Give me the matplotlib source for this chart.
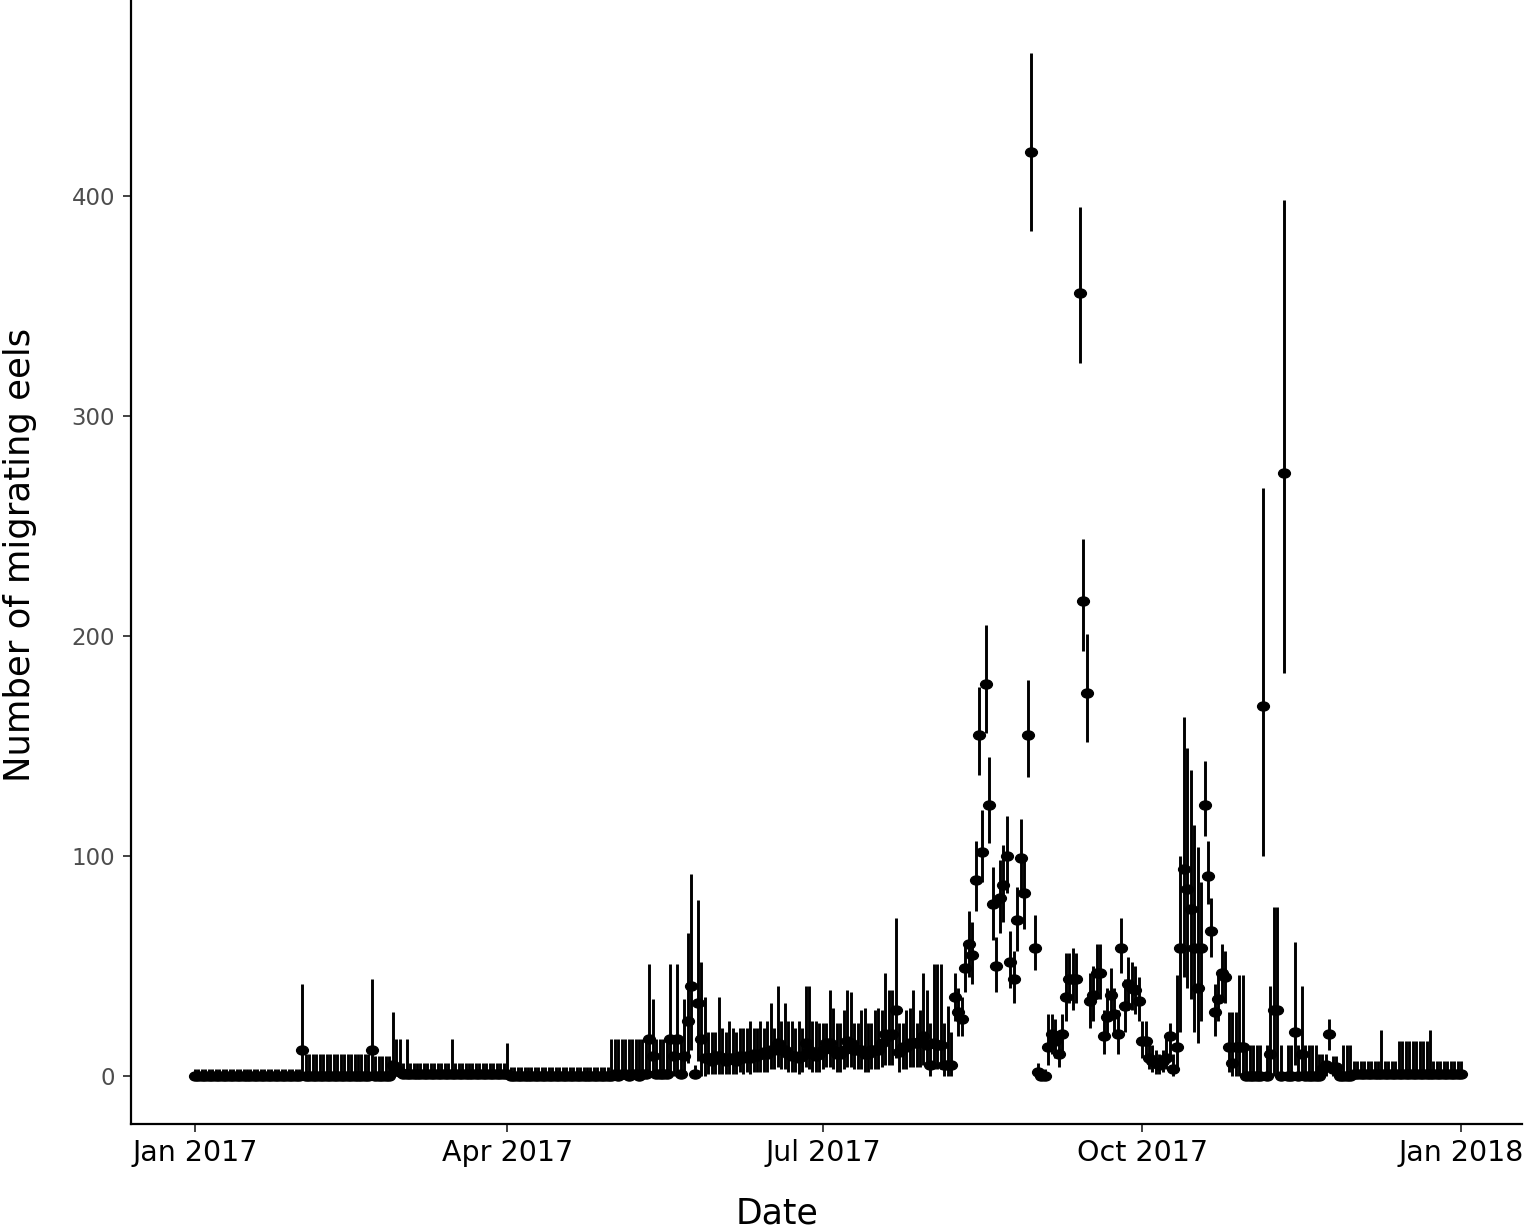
import matplotlib
matplotlib.use("Agg")
import matplotlib.pyplot as plt
import matplotlib.dates as mdates
from matplotlib.path import Path
import numpy as np
import pandas as pd

# one estimate per day, 1 Jan 2017 .. 1 Jan 2018
dates = pd.date_range("2017-01-01", "2018-01-01", freq="D")

eels = (
    [0] * 31  # Jan
    + [12] + [0] * 19 + [12] + [0] * 5 + [5, 3]  # Feb
    + [2] + [1] * 30  # Mar
    + [1] + [0] * 29  # Apr
    + [0, 1, 0, 1, 1, 0, 1, 1, 0, 1, 1, 17, 9, 1, 1, 1, 1, 17, 9, 17,
       1, 9, 25, 41, 1, 33, 17, 8, 8, 7, 9]  # May
    + [9, 8, 7, 8, 8, 7, 9, 8, 9, 8, 10, 9, 10, 11, 10, 12, 12, 15, 12, 12,
       10, 9, 9, 8, 9, 15, 12, 10, 9, 10]  # Jun
    + [12, 15, 15, 12, 10, 10, 12, 16, 15, 12, 12, 12, 10, 10, 12, 12, 12, 15, 19, 18,
       19, 30, 11, 13, 13, 15, 15, 15, 16, 18, 14]  # Jul
    + [5, 15, 14, 14, 5, 5, 5, 36, 29, 26, 49, 60, 55, 89, 155, 102, 178, 123, 78, 50,
       81, 87, 100, 52, 44, 71, 99, 83, 155, 420, 58]  # Aug
    + [2, 0, 0, 13, 19, 16, 10, 19, 36, 44, 44, 44, 356, 216, 174, 34, 37, 47, 47, 18,
       27, 37, 28, 19, 58, 32, 42, 40, 39, 34]  # Sep
    + [16, 16, 8, 7, 6, 5, 7, 8, 18, 3, 13, 58, 94, 85, 76, 58, 40, 58, 123, 91,
       66, 29, 35, 47, 45, 13, 6, 13, 13, 13, 0]  # Oct
    + [0, 0, 0, 0, 168, 0, 10, 30, 30, 0, 274, 0, 0, 20, 0, 10, 0, 0, 0, 0,
       0, 3, 5, 19, 3, 4, 0, 0, 0, 0]  # Nov
    + [1] * 32  # Dec + 1 Jan 2018
)

eels_lo = (
    [0] * 31 + [0] * 28 + [0] * 31 + [0] * 30
    + [0] * 11 + [0, 0, 0, 0, 0, 0, 0, 0, 0, 0, 0, 6, 12, 0, 7, 0, 0, 1, 1, 1]
    + [1, 1, 1, 1, 1, 1, 2, 1, 2, 1, 2, 2, 2, 2, 2, 3, 3, 4, 3, 3,
       2, 2, 2, 1, 2, 4, 3, 2, 2, 2]
    + [3, 4, 4, 3, 2, 2, 3, 4, 4, 3, 3, 3, 2, 2, 3, 3, 3, 4, 5, 5,
       5, 8, 2, 3, 3, 4, 4, 4, 4, 5, 4]
    + [0, 3, 3, 3, 0, 0, 0, 25, 18, 18, 38, 45, 42, 75, 137, 88, 156, 106, 62, 38,
       65, 70, 83, 40, 33, 57, 83, 67, 136, 384, 48]
    + [0, 0, 0, 5, 10, 8, 4, 10, 25, 33, 30, 33, 324, 193, 152, 22, 25, 35, 35, 10,
       17, 26, 18, 10, 47, 20, 30, 30, 28, 25]
    + [8, 8, 3, 2, 1, 1, 2, 3, 8, 0, 3, 20, 45, 40, 35, 20, 15, 25, 109, 78,
       54, 18, 25, 35, 33, 2, 0, 0, 0, 0, 0]
    + [0, 0, 0, 0, 100, 0, 0, 0, 0, 0, 183, 0, 0, 5, 0, 0, 0, 0, 0, 0,
       0, 0, 0, 12, 0, 0, 0, 0, 0, 0]
    + [0] * 32
)

eels_hi = (
    [3] * 31
    + [42] + [10] * 19 + [44] + [9] * 5 + [29, 17]
    + [17, 6, 17] + [6] * 12 + [17] + [6] * 15
    + [15] + [4] * 29
    + [17] * 11 + [51, 35, 17, 17, 17, 17, 51, 17, 51, 17, 35, 65, 92, 5, 80, 52, 36, 20, 20, 20]
    + [36, 22, 20, 25, 22, 20, 22, 22, 22, 25, 22, 22, 25, 22, 25, 33, 22, 41, 25, 33,
       25, 25, 22, 25, 22, 41, 41, 25, 25, 24]
    + [24, 24, 39, 31, 24, 24, 30, 39, 38, 24, 24, 30, 31, 24, 24, 30, 31, 30, 47, 39,
       39, 72, 24, 24, 30, 31, 39, 24, 30, 47, 39]
    + [24, 51, 51, 51, 24, 32, 20, 47, 40, 36, 60, 75, 70, 107, 177, 121, 205, 145, 95, 63,
       98, 105, 118, 66, 57, 86, 117, 100, 180, 465, 73]
    + [6, 3, 3, 28, 28, 26, 20, 28, 56, 56, 58, 56, 395, 244, 201, 47, 50, 60, 60, 30,
       40, 49, 40, 30, 72, 44, 54, 52, 50, 45]
    + [25, 25, 16, 14, 12, 10, 12, 18, 24, 10, 46, 100, 163, 149, 139, 114, 104, 88, 143, 107,
       81, 42, 47, 60, 57, 29, 29, 29, 46, 46, 14]
    + [14, 14, 14, 14, 267, 14, 41, 77, 77, 14, 398, 14, 14, 61, 14, 41, 14, 14, 14, 14,
       10, 10, 10, 26, 9, 9, 3, 14, 14, 14]
    + [7] * 8 + [21] + [7] * 4 + [16] * 9 + [21] + [7] * 9
)

y_ticks = [0, 100, 200, 300, 400]

fig = plt.figure(figsize=(15.35, 12.28), dpi=100)
ax = fig.add_axes([0.0853, 0.0847, 0.9062, 0.9153])

# slightly wide dots, like the original
circ = Path.unit_circle()
dot = Path(circ.vertices * np.array([1.3, 1.0]), circ.codes)

ax.vlines(dates, eels_lo, eels_hi, color="black", lw=2.1)
ax.plot(dates, eels, linestyle="none", marker=dot, ms=8.5, color="black")

start = mdates.date2num(dates[0])
ax.set_xlim(start - 18.45, start + 382.5)
ax.set_ylim(-21.8, 489)

ax.xaxis.set_major_locator(mdates.MonthLocator(bymonth=[1, 4, 7, 10]))
ax.xaxis.set_major_formatter(mdates.DateFormatter("%b %Y"))
ax.set_yticks(y_ticks)

for s in ["top", "right"]:
    ax.spines[s].set_visible(False)
for s in ["left", "bottom"]:
    ax.spines[s].set_linewidth(1.6)
    ax.spines[s].set_color("black")

ax.tick_params(axis="x", labelsize=20.5, labelcolor="black", length=5.5, width=1.3,
               color="#333333", pad=5)
ax.tick_params(axis="y", labelsize=16.5, labelcolor="#4D4D4D", length=5.5, width=1.3,
               color="#333333", pad=6)

ax.set_xlabel("Date", fontsize=25)
ax.xaxis.label.set_va("center")
ax.xaxis.set_label_coords(0.4644, -0.0792)
ax.set_ylabel("Number of migrating eels", fontsize=25.5)
ax.yaxis.label.set_va("center")
ax.yaxis.set_label_coords(-0.0798, 0.506)

fig.savefig("out.png", dpi=100)
